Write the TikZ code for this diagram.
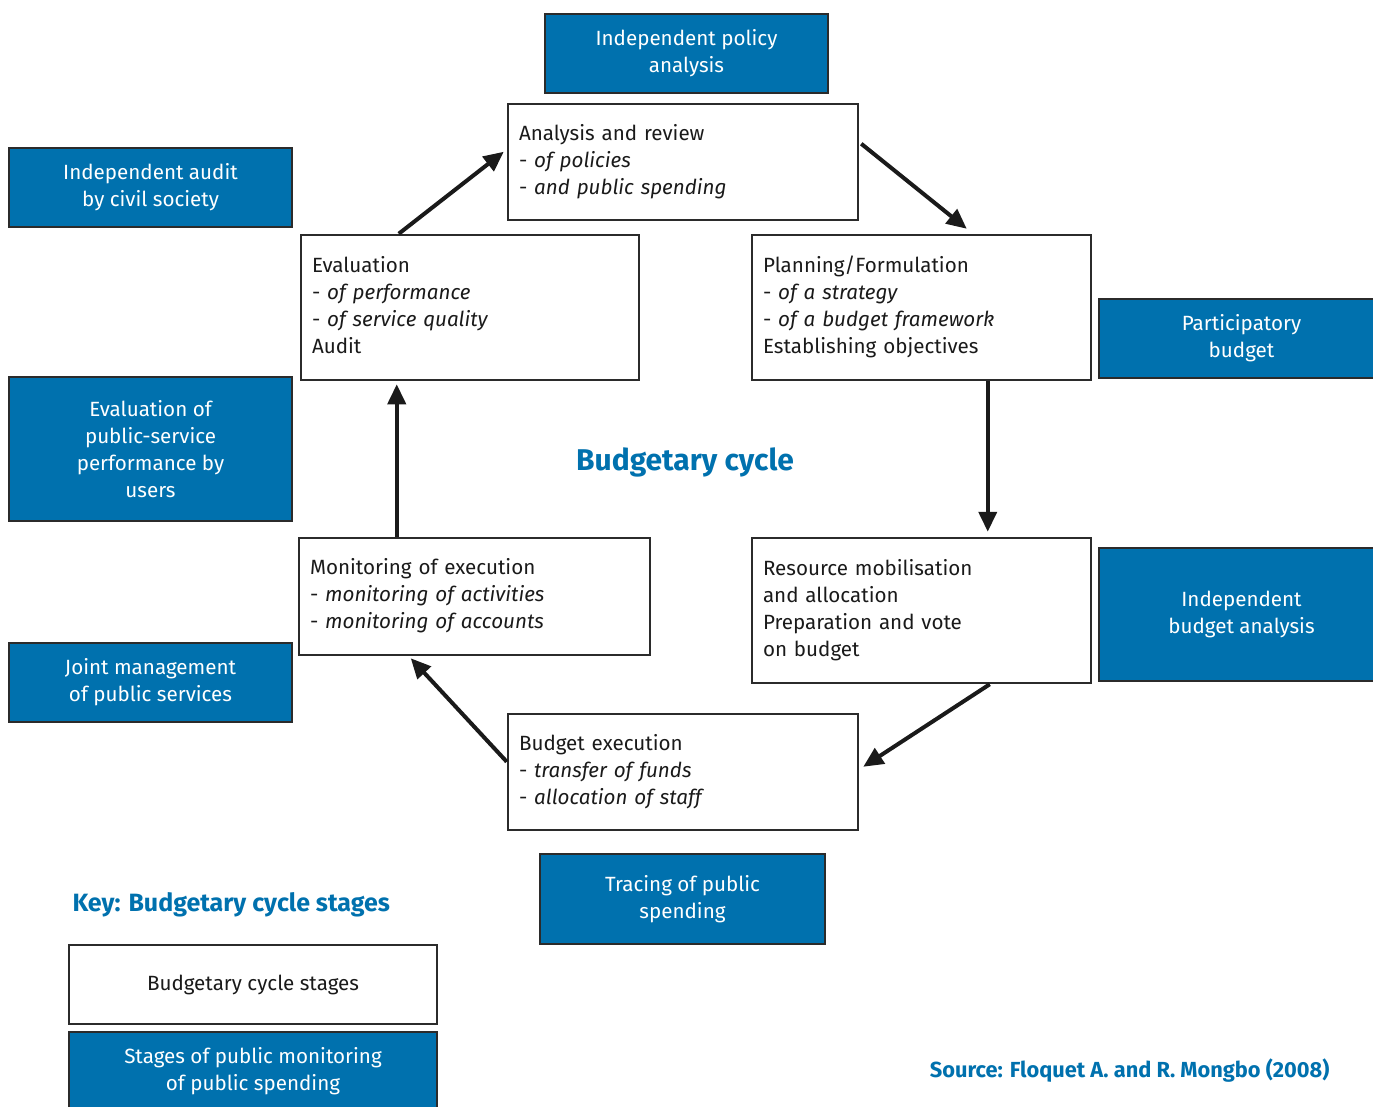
\documentclass[tikz,border=0pt]{standalone}
\usepackage{fontspec}
\setmainfont{Fira Sans}
\usetikzlibrary{arrows.meta}
\definecolor{cblue}{HTML}{0071AE}
\definecolor{cedge}{HTML}{2B2B2B}
\definecolor{cink}{HTML}{1A1A1A}
\newcommand{\raisefix}{\\[-21pt]\mbox{}}
\begin{document}
\begin{tikzpicture}[x=1pt,y=-1pt,
  every node/.style={font=\fontsize{20.6}{27}\selectfont},
  stage/.style={draw=cedge,line width=2.5pt,fill=white,text=cink,align=left,inner xsep=11pt,inner ysep=0pt},
  mon/.style={draw=cedge,line width=2.5pt,fill=cblue,text=white,align=center,inner sep=0pt},
  keystage/.style={draw=cedge,line width=2.5pt,fill=white,text=cink,align=center,inner sep=0pt},
  flow/.style={draw=cink,line width=4pt,-{Triangle[length=20pt,width=18pt]}},
  title/.style={text=cblue,font=\fontsize{30}{34}\selectfont\bfseries},
]
\clip (0,0) rectangle (1373,1106);
\fill[white] (0,0) rectangle (1373,1106);

% monitoring boxes (blue)
\node[mon,minimum width=283pt,minimum height=79pt] (ipa) at (686.5,53.5) {Independent policy\\analysis};
\node[mon,minimum width=283pt,minimum height=79pt] (iac) at (150.5,187.5) {Independent audit\\by civil society};
\node[mon,minimum width=285pt,minimum height=79pt] (pb) at (1241.5,338.5) {Participatory\\budget};
\node[mon,minimum width=283pt,minimum height=144pt] (eps) at (150.5,449) {Evaluation of\\public-service\\performance by\\users};
\node[mon,minimum width=285pt,minimum height=133pt] (iba) at (1241.5,614.5) {Independent\\budget analysis};
\node[mon,minimum width=283pt,minimum height=79pt] (jm) at (150.5,682.5) {Joint management\\of public services};
\node[mon,minimum width=285pt,minimum height=90pt] (tps) at (682.5,899) {Tracing of public\\spending};

% budgetary cycle stages (white)
\node[stage,minimum width=350pt,minimum height=116pt,text width=328pt] (ana) at (683,162) {Analysis and review\\- \textit{of policies}\\- \textit{and public spending}\raisefix};
\node[stage,minimum width=338pt,minimum height=145pt,text width=316pt] (eval) at (470,307.5) {Evaluation\\- \textit{of performance}\\- \textit{of service quality}\\Audit\raisefix};
\node[stage,minimum width=339pt,minimum height=145pt,text width=317pt] (plan) at (921.5,307.5) {Planning/Formulation\\- \textit{of a strategy}\\- \textit{of a budget framework}\\Establishing objectives\raisefix};
\node[stage,minimum width=351pt,minimum height=117pt,text width=329pt] (moni) at (474.5,596.5) {Monitoring of execution\\- \textit{monitoring of activities}\\- \textit{monitoring of accounts}\raisefix};
\node[stage,minimum width=339pt,minimum height=145pt,text width=317pt] (res) at (921.5,610.5) {Resource mobilisation\\and allocation\\Preparation and vote\\on budget};
\node[stage,minimum width=350pt,minimum height=116pt,text width=328pt] (bex) at (683,772) {Budget execution\\- \textit{transfer of funds}\\- \textit{allocation of staff}\raisefix};

% title
\node[title] (ttl) at (685,462) {Budgetary cycle};

% cycle arrows
\draw[flow] ([xshift=99pt]eval.north west) -- ([xshift=-3pt,yshift=-49pt]ana.north west);
\draw[flow] ([yshift=-41pt,xshift=2pt]ana.north east) -- ([xshift=216pt,yshift=5pt]plan.north west);
\draw[flow] ([xshift=237pt]plan.south west) -- ([xshift=237pt,yshift=5pt]res.north west);
\draw[flow] ([xshift=239pt]res.south west) -- ([xshift=4pt,yshift=-54pt]bex.north east);
\draw[flow] ([yshift=-49pt]bex.north west) -- ([xshift=113pt,yshift=-2pt]moni.south west);
\draw[flow] ([xshift=99pt]moni.north west) -- ([xshift=97pt,yshift=-3pt]eval.south west);

% key
\node[title,font=\fontsize{25}{30}\selectfont\bfseries,anchor=west] (key) at (69,905) {Key: Budgetary cycle stages};
\node[keystage,minimum width=368pt,minimum height=79pt] (k1) at (253,984.5) {Budgetary cycle stages};
\node[mon,minimum width=368pt,minimum height=79pt] (k2) at (253,1071.5) {Stages of public monitoring\\of public spending};

% source
\node[text=cblue,font=\fontsize{21.8}{25}\selectfont\bfseries,anchor=east] (src) at (1333,1071) {Source: Floquet A. and R. Mongbo (2008)};
\end{tikzpicture}
\end{document}
